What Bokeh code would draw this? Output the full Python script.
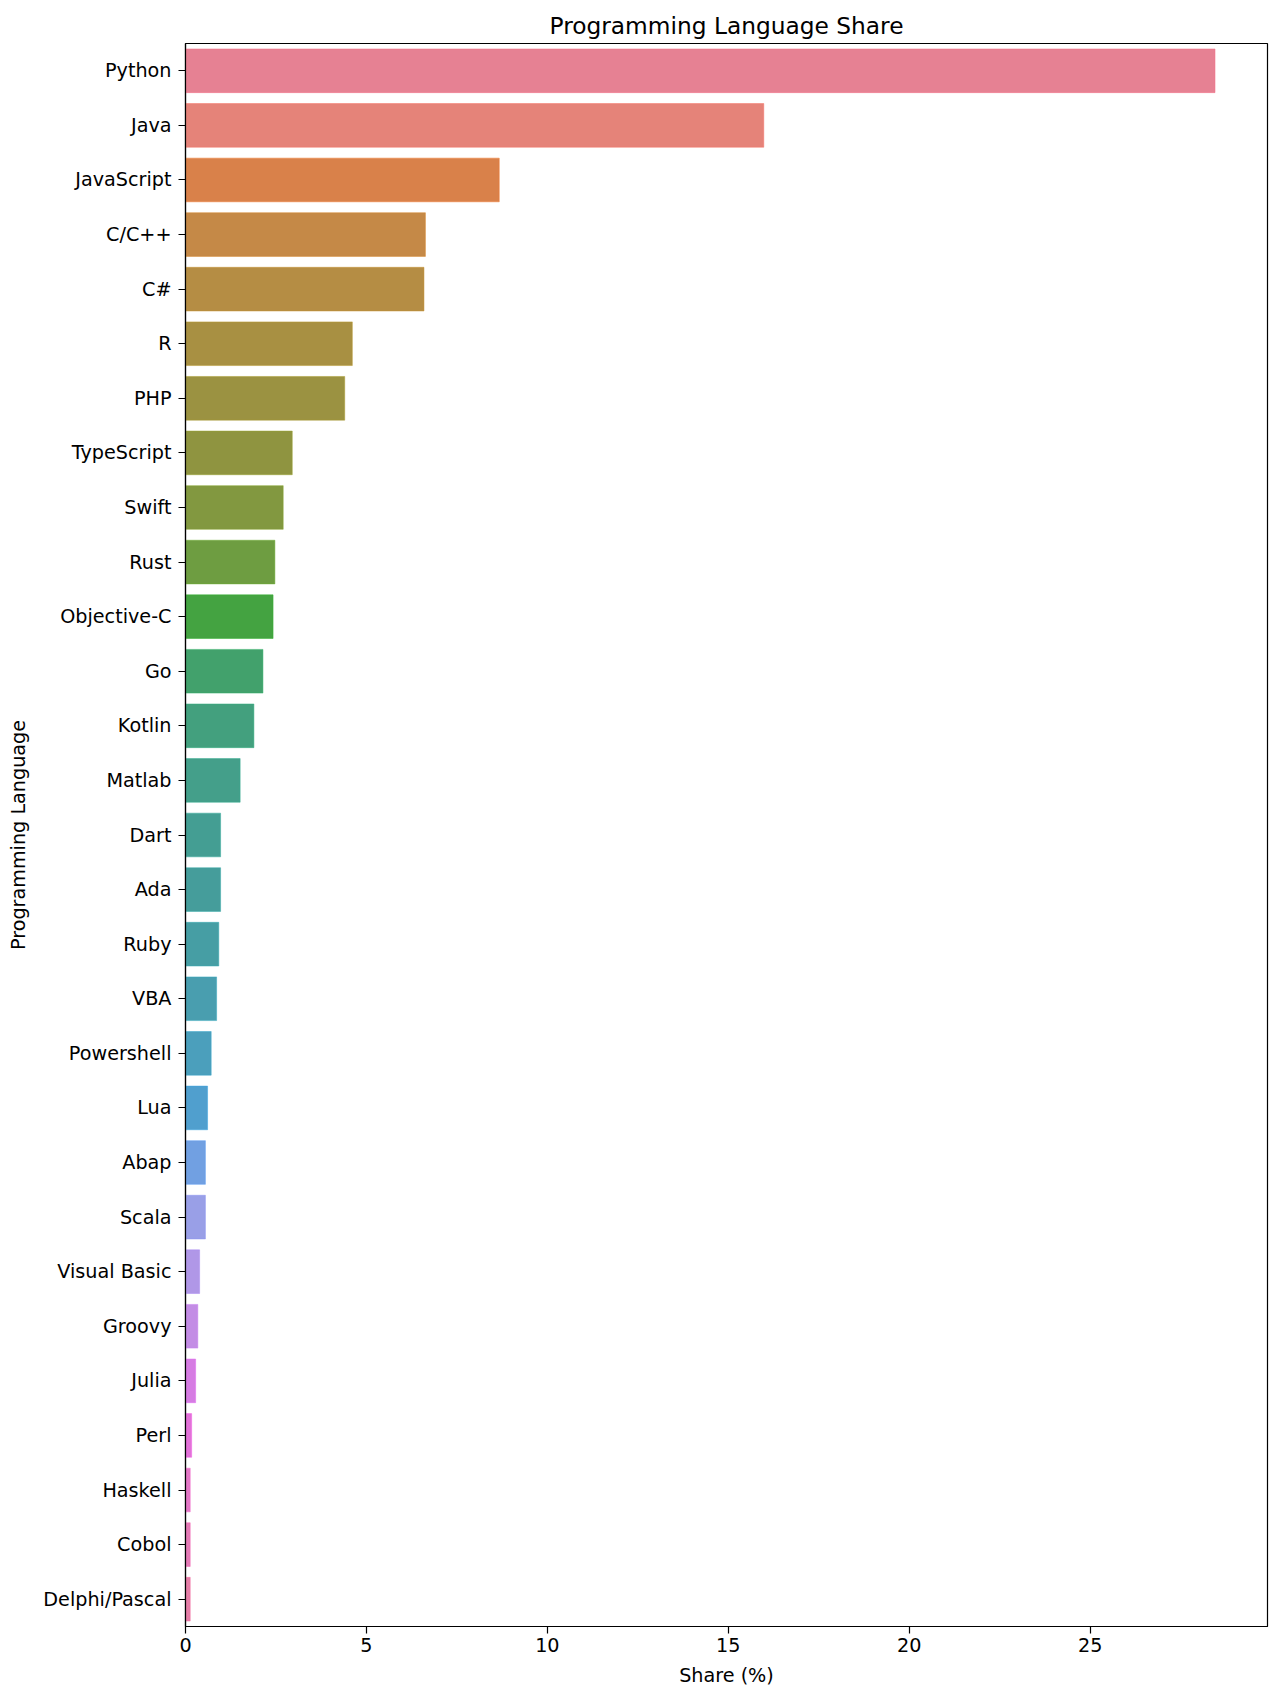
import math
import colorsys
from bokeh.plotting import figure
from bokeh.models import FactorRange, Range1d, FixedTicker, ColumnDataSource
from bokeh.embed import file_html
from bokeh.resources import INLINE

# ---- data ----
languages = ["Python", "Java", "JavaScript", "C/C++", "C#", "R", "PHP", "TypeScript",
             "Swift", "Rust", "Objective-C", "Go", "Kotlin", "Matlab", "Dart", "Ada",
             "Ruby", "VBA", "Powershell", "Lua", "Abap", "Scala", "Visual Basic",
             "Groovy", "Julia", "Perl", "Haskell", "Cobol", "Delphi/Pascal"]
shares = [28.45, 15.98, 8.67, 6.63, 6.59, 4.61, 4.40, 2.95,
          2.70, 2.47, 2.42, 2.14, 1.89, 1.51, 0.97, 0.97,
          0.92, 0.86, 0.71, 0.61, 0.55, 0.55, 0.39,
          0.34, 0.28, 0.17, 0.13, 0.13, 0.13]
x_ticks = [0, 5, 10, 15, 20, 25]

# ---- husl palette (seaborn style) ----
_m = [[3.2406, -1.5372, -0.4986], [-0.9689, 1.8758, 0.0415], [0.0557, -0.2040, 1.0570]]
refU, refV, kappa, eps = 0.19784, 0.46834, 903.2963, 0.0088564


def _max_chroma(L, H):
    hrad = math.radians(H)
    sinH, cosH = math.sin(hrad), math.cos(hrad)
    sub1 = (L + 16) ** 3 / 1560896.0
    sub2 = sub1 if sub1 > eps else L / kappa
    result = float("inf")
    for m1, m2, m3 in _m:
        top = (0.99915 * m1 + 1.05122 * m2 + 1.14460 * m3) * sub2
        rb = 0.86330 * m3 - 0.17266 * m2
        lb = 0.12949 * m3 - 0.38848 * m1
        bottom = (rb * sinH + lb * cosH) * sub2
        for t in (0.0, 1.0):
            C = L * (top - 1.05122 * t) / (bottom + 0.17266 * sinH * t)
            if 0.0 < C < result:
                result = C
    return result


def _from_linear(c):
    return 12.92 * c if c <= 0.0031308 else 1.055 * c ** (1 / 2.4) - 0.055


def husl_to_rgb(h, s, l):
    C = _max_chroma(l, h) / 100.0 * s
    hrad = math.radians(h)
    U, V = math.cos(hrad) * C, math.sin(hrad) * C
    varY = ((l + 16) / 116.0) ** 3 if l > 8 else l / kappa
    varU = U / (13 * l) + refU
    varV = V / (13 * l) + refV
    Y = varY
    X = 0 - (9 * Y * varU) / ((varU - 4) * varV - varU * varV)
    Z = (9 * Y - 15 * varV * Y - varV * X) / (3 * varV)
    return [min(max(_from_linear(r[0] * X + r[1] * Y + r[2] * Z), 0), 1) for r in _m]


def to_hex(rgb):
    return "#%02x%02x%02x" % tuple(int(round(v * 255)) for v in rgb)


n = len(languages)
fills, edges = [], []
for i in range(n):
    hue = ((i / n) + 0.01) % 1 * 359
    rgb = husl_to_rgb(hue, 0.9 * 99, 0.65 * 99)
    hh, ll, ss = colorsys.rgb_to_hls(*rgb)
    fills.append(to_hex(colorsys.hls_to_rgb(hh, ll, ss * 0.75)))
    edges.append(to_hex(rgb))

source = ColumnDataSource(dict(lang=languages, share=shares, fill=fills, edge=edges))

FONT = "DejaVu Sans"

p = figure(width=1272, height=1691,
           y_range=FactorRange(factors=list(reversed(languages)), range_padding=0),
           x_range=Range1d(0, 29.9),
           output_backend="svg", toolbar_location=None,
           title="Programming Language Share",
           min_border_left=185, min_border_right=5, min_border_top=43, min_border_bottom=65)

p.hbar(y="lang", right="share", left=0, height=0.8, source=source,
       fill_color="fill", line_color="edge", line_width=1, line_alpha=0.5)

p.title.align = "center"
p.title.text_font = FONT
p.title.text_font_size = "23.3px"
p.title.text_font_style = "normal"
p.title.text_color = "black"

p.xgrid.visible = False
p.ygrid.visible = False
p.outline_line_color = "black"
p.outline_line_width = 1.2
p.outline_line_alpha = 1

p.xaxis.ticker = FixedTicker(ticks=x_ticks)
p.xaxis.axis_label = "Share (%)"
p.yaxis.axis_label = "Programming Language"

for ax in (p.xaxis[0], p.yaxis[0]):
    ax.axis_label_text_font = FONT
    ax.axis_label_text_font_size = "19.2px"
    ax.axis_label_text_font_style = "normal"
    ax.axis_label_text_color = "black"
    ax.major_label_text_font = FONT
    ax.major_label_text_font_size = "19.2px"
    ax.major_label_text_color = "black"
    ax.axis_line_color = "black"
    ax.axis_line_width = 1.2
    ax.major_tick_line_color = "black"
    ax.major_tick_line_width = 1.2
    ax.major_tick_out = 7
    ax.major_tick_in = 0
    ax.minor_tick_out = 0
    ax.minor_tick_in = 0

p.xaxis.major_label_standoff = 4
p.xaxis.axis_label_standoff = 9
p.yaxis.major_label_standoff = 7
p.yaxis.axis_label_standoff = 10

open("out.html", "w").write(file_html(p, INLINE))
